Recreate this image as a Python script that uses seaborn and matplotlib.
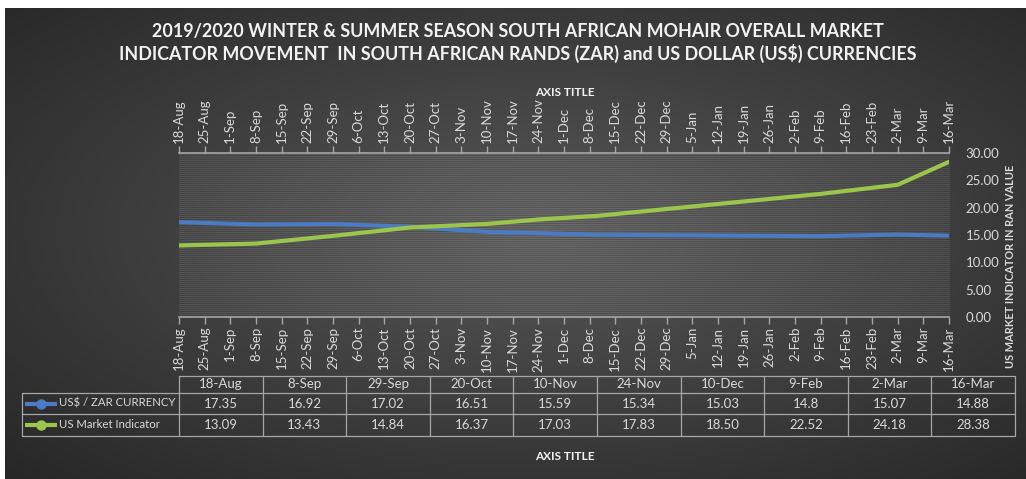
import numpy as np
import pandas as pd
import matplotlib
matplotlib.use("Agg")
import matplotlib.pyplot as plt
import matplotlib.ticker as mticker
import matplotlib.dates as mdates
import seaborn as sns

# ---- data ----
title = ("2019/2020 WINTER & SUMMER SEASON SOUTH AFRICAN MOHAIR OVERALL MARKET\n"
         "INDICATOR MOVEMENT  IN SOUTH AFRICAN RANDS (ZAR) and US DOLLAR (US$) CURRENCIES")
series_names = ["US$ / ZAR CURRENCY", "US Market Indicator"]
dates = ["2018-08-18", "2018-09-08", "2018-09-29", "2018-10-20", "2018-11-10",
         "2018-11-24", "2018-12-10", "2019-02-09", "2019-03-02", "2019-03-16"]
date_labels = ["18-Aug", "8-Sep", "29-Sep", "20-Oct", "10-Nov",
               "24-Nov", "10-Dec", "9-Feb", "2-Mar", "16-Mar"]
zar_values = ["17.35", "16.92", "17.02", "16.51", "15.59",
              "15.34", "15.03", "14.8", "15.07", "14.88"]
usm_values = ["13.09", "13.43", "14.84", "16.37", "17.03",
              "17.83", "18.50", "22.52", "24.18", "28.38"]
week_start, week_end = "2018-08-18", "2019-03-16"
y_ticks = [0, 5, 10, 15, 20, 25, 30]
colors = ["#4a7bc4", "#9bc54b"]

df = pd.DataFrame({
    "date": pd.to_datetime(dates * 2),
    "value": [float(v) for v in zar_values + usm_values],
    "series": [series_names[0]] * len(dates) + [series_names[1]] * len(dates),
})

sns.set_theme(style="white")
plt.rcParams["font.family"] = ["Lato", "DejaVu Sans"]

W, H = 1026, 479
fig = plt.figure(figsize=(W / 100, H / 100), dpi=100)

# background: dark radial gradient, striped plot area, white margin
bg = fig.add_axes([0, 0, 1, 1])
yy, xx = np.mgrid[0:H, 0:W]
r = np.sqrt(((xx - 540) / 540.0) ** 2 + ((yy - 230) / 250.0) ** 2) / np.sqrt(2)
g = 0.34 - 0.19 * np.clip(r, 0, 1)
px0, px1, py0, py1 = 179, 949, 153, 317
stripe = np.where((yy % 2) == 0, 1.10, 0.88)
inside = (xx >= px0) & (xx <= px1) & (yy >= py0) & (yy <= py1)
g = np.where(inside, (g + 0.05) * stripe, g)
g[:8, :] = 1.0
g[:, :5] = 1.0
img = np.dstack([g, g, g]).clip(0, 1)
bg.imshow(img, extent=(0, W, H, 0), interpolation="nearest", aspect="auto")
bg.set_xlim(0, W)
bg.set_ylim(H, 0)
bg.axis("off")

# ---- chart ----
ax = fig.add_axes([px0 / W, 1 - py1 / H, (px1 - px0) / W, (py1 - py0) / H])
ax.set_facecolor("none")
sns.lineplot(data=df, x="date", y="value", hue="series", palette=colors,
             linewidth=3, ax=ax, legend=False)

weeks = pd.date_range(week_start, week_end, freq="7D")
ax.set_xlim(pd.Timestamp(week_start), pd.Timestamp(week_end))
ax.set_ylim(0, 30)
ax.xaxis.set_major_locator(mticker.FixedLocator(mdates.date2num(weeks)))
ax.xaxis.set_major_formatter(mticker.FuncFormatter(
    lambda v, _: f"{mdates.num2date(v).day}-{mdates.num2date(v).strftime('%b')}"))
ax.tick_params(axis="x", top=True, labeltop=True, bottom=True, labelbottom=True,
               labelrotation=90, direction="out", length=5, width=1,
               color="#a6a6a6", labelcolor="#d9d9d9", labelsize=9.5, pad=2)
ax.yaxis.tick_right()
ax.set_yticks(y_ticks)
ax.yaxis.set_major_formatter(mticker.FormatStrFormatter("%.2f"))
ax.tick_params(axis="y", length=0, labelcolor="#d9d9d9", labelsize=9.5, pad=12)
ax.set_xlabel("")
ax.set_ylabel("")
for side in ["left", "right"]:
    ax.spines[side].set_visible(False)
for side in ["top", "bottom"]:
    ax.spines[side].set_color("#a6a6a6")
    ax.spines[side].set_linewidth(1.2)

# titles
fig.text(518 / W, 1 - 43 / H, title, ha="center", va="center", color="#f2f2f2",
         fontsize=12.9, fontweight="bold", linespacing=1.25)
fig.text(565 / W, 1 - 92 / H, "AXIS TITLE", ha="center", va="center",
         color="#f2f2f2", fontsize=8.5, fontweight="bold")
fig.text(565 / W, 1 - 456 / H, "AXIS TITLE", ha="center", va="center",
         color="#f2f2f2", fontsize=8.5, fontweight="bold")
fig.text(1010 / W, 1 - 266 / H, "US MARKET INDICATOR IN RAN VALUE", rotation=90,
         ha="center", va="center", color="#d9d9d9", fontsize=7.9, fontweight="bold")

# ---- data table (drawn in pixel coords on bg axes) ----
grid_c = "#a6a6a6"
tx0, tx1 = 179, 1015
lx0 = 22
cw = (tx1 - tx0) / len(date_labels)
ry = [376, 393, 414, 436]
bg.plot([tx0, tx1], [ry[0], ry[0]], color=grid_c, lw=0.9)
for yv in ry[1:]:
    bg.plot([lx0, tx1], [yv, yv], color=grid_c, lw=0.9)
bg.plot([lx0, lx0], [ry[1], ry[3]], color=grid_c, lw=0.9)
for k in range(len(date_labels) + 1):
    xv = tx0 + k * cw
    bg.plot([xv, xv], [ry[0], ry[3]], color=grid_c, lw=0.9)

rows = [zar_values, usm_values]
for k, lab in enumerate(date_labels):
    cx = tx0 + (k + 0.5) * cw
    bg.text(cx, (ry[0] + ry[1]) / 2, lab, ha="center", va="center",
            color="#d9d9d9", fontsize=9.5)
    for i, vals in enumerate(rows):
        bg.text(cx, (ry[i + 1] + ry[i + 2]) / 2, vals[k], ha="center", va="center",
                color="#d9d9d9", fontsize=9.5)

for i, name in enumerate(series_names):
    cy = (ry[i + 1] + ry[i + 2]) / 2
    bg.plot([25, 57], [cy, cy], color=colors[i], lw=3, solid_capstyle="butt")
    bg.plot([41], [cy], marker="o", color=colors[i], markersize=6.5)
    bg.text(59, cy, name, ha="left", va="center", color="#d9d9d9", fontsize=8.2)

fig.savefig("out.png", dpi=100)
